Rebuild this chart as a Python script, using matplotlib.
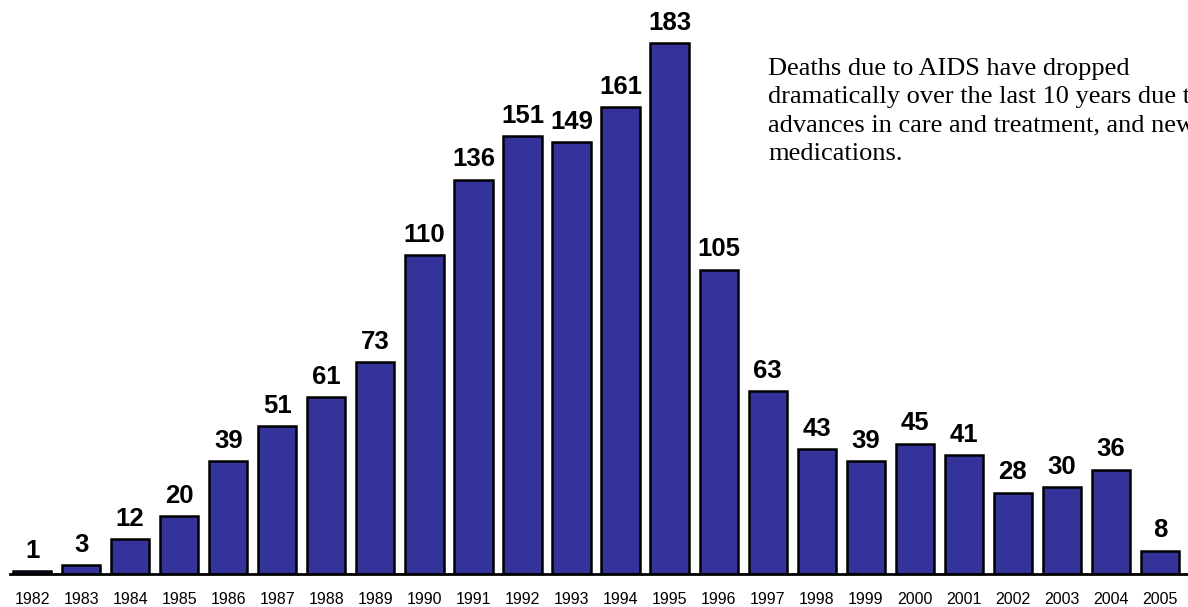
import numpy as np
import matplotlib
matplotlib.use("Agg")
from matplotlib import pyplot as plt

years = [str(y) for y in range(1982, 2006)]
deaths = [1, 3, 12, 20, 39, 51, 61, 73, 110, 136, 151, 149, 161, 183,
          105, 63, 43, 39, 45, 41, 28, 30, 36, 8]
note = ("Deaths due to AIDS have dropped\n"
        "dramatically over the last 10 years due to\n"
        "advances in care and treatment, and new\n"
        "medications.")

fig = plt.figure(figsize=(11.88, 6.07), dpi=100)
ax = fig.add_axes([10 / 1188, 33 / 607, 1 - 10 / 1188, 551 / 607])

x = np.arange(len(years))
bars = ax.bar(x, deaths, width=0.78, color="#333399", edgecolor="black", linewidth=1.8)

# value labels above each bar
for b, v in zip(bars, deaths):
    ax.annotate(str(v), (b.get_x() + b.get_width() / 2, b.get_height()),
                xytext=(0, 6), textcoords="offset points", ha="center", va="bottom",
                fontsize=18.5, fontweight="bold", family="Liberation Sans")

ax.set_xlim(-0.45, 23.57)
ax.set_ylim(0, 190)
ax.set_xticks(x)
ax.set_xticklabels(years, fontsize=11.5, family="Liberation Sans")
ax.tick_params(axis="x", length=0, pad=13)
ax.set_yticks([])
for s in ["top", "right", "left"]:
    ax.spines[s].set_visible(False)
ax.spines["bottom"].set_linewidth(2)

# note runs off the right edge, as in the original slide
fig.text(768 / 1188, 0.905, note, ha="left", va="top", fontsize=19,
         family="Liberation Serif", linespacing=1.37)

fig.savefig("out.png", dpi=100)
